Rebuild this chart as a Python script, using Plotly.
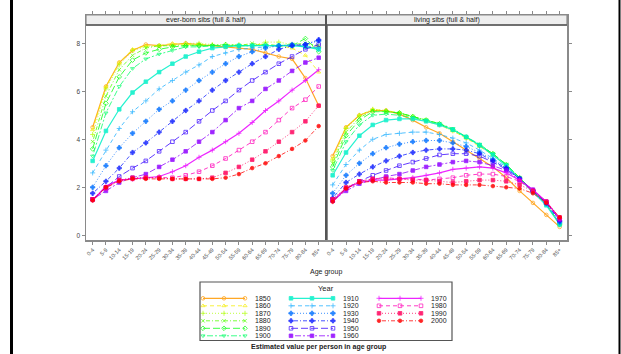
import plotly.graph_objects as go

W, H = 621, 354

age_groups = ["0-4", "5-9", "10-14", "15-19", "20-24", "25-29", "30-34", "35-39", "40-44",
              "45-49", "50-54", "55-59", "60-64", "65-69", "70-74", "75-79", "80-84", "85+"]
years = [1850, 1860, 1870, 1880, 1890, 1900, 1910, 1920, 1930, 1940, 1950, 1960, 1970, 1980, 1990, 2000]
panel_titles = ["ever-born sibs (full & half)", "living sibs (full & half)"]

# ever-born sibs (full & half)
ever_1850 = [4.5, 6.2, 7.2, 7.7, 7.95, 7.9, 7.95, 8.0, 7.95, 7.9, 7.85, 7.8, 7.75, 7.6, 7.45, 7.35, 6.55, 5.4]
ever_1860 = [4.4, 6.2, 7.2, 7.75, 7.9, 7.9, 8.0, 7.95, 7.95, 7.9, 7.9, 7.9, 7.95, 7.95, 7.9, 7.8, 7.5, 6.8]
ever_1870 = [4.2, 6.1, 7.1, 7.7, 7.85, 7.9, 7.9, 8.0, 8.0, 7.95, 7.95, 7.95, 7.9, 8.05, 8.05, 7.95, 7.9, 7.85]
ever_1880 = [3.9, 5.8, 6.9, 7.5, 7.8, 7.9, 7.9, 7.9, 7.95, 7.9, 7.9, 7.9, 8.0, 7.9, 7.9, 7.95, 8.0, 7.9]
ever_1890 = [3.6, 5.5, 6.6, 7.3, 7.6, 7.75, 7.85, 7.9, 7.9, 7.9, 7.95, 7.9, 7.9, 7.95, 7.9, 7.9, 8.2, 7.65]
ever_1900 = [3.3, 5.1, 6.2, 6.95, 7.35, 7.55, 7.7, 7.85, 7.85, 7.9, 7.9, 7.9, 7.9, 7.9, 7.9, 7.95, 7.85, 7.8]
ever_1910 = [3.1, 4.35, 5.25, 5.95, 6.4, 6.8, 7.15, 7.45, 7.65, 7.8, 7.85, 7.9, 7.9, 7.9, 7.9, 7.9, 7.85, 7.75]
ever_1920 = [2.6, 3.55, 4.45, 5.15, 5.6, 6.1, 6.45, 6.8, 7.1, 7.45, 7.6, 7.75, 7.8, 7.85, 7.9, 7.9, 7.9, 7.8]
ever_1930 = [2.0, 2.9, 3.65, 4.25, 4.75, 5.25, 5.6, 6.05, 6.45, 6.8, 7.15, 7.45, 7.65, 7.8, 7.9, 7.95, 7.95, 8.1]
ever_1940 = [1.75, 2.25, 2.8, 3.45, 3.85, 4.3, 4.75, 5.2, 5.6, 6.05, 6.45, 6.8, 7.15, 7.45, 7.75, 7.9, 7.95, 8.15]
ever_1950 = [1.5, 2.0, 2.45, 2.8, 3.1, 3.5, 3.9, 4.3, 4.75, 5.2, 5.6, 6.05, 6.45, 6.8, 7.15, 7.45, 7.75, 7.95]
ever_1960 = [1.5, 1.85, 2.2, 2.4, 2.55, 2.85, 3.15, 3.5, 3.9, 4.3, 4.8, 5.3, 5.6, 6.1, 6.45, 6.85, 7.2, 7.4]
ever_1970 = [1.45, 2.05, 2.3, 2.35, 2.4, 2.45, 2.65, 2.9, 3.25, 3.55, 3.9, 4.25, 4.7, 5.2, 5.6, 6.05, 6.45, 6.9]
ever_1980 = [1.5, 1.95, 2.3, 2.35, 2.4, 2.4, 2.4, 2.5, 2.65, 2.9, 3.2, 3.55, 3.9, 4.3, 4.8, 5.3, 5.65, 6.2]
ever_1990 = [1.5, 2.0, 2.3, 2.4, 2.4, 2.4, 2.35, 2.35, 2.35, 2.4, 2.6, 2.85, 3.15, 3.5, 3.9, 4.3, 4.75, 5.4]
ever_2000 = [1.45, 2.0, 2.25, 2.35, 2.35, 2.35, 2.35, 2.35, 2.35, 2.35, 2.4, 2.55, 2.8, 3.0, 3.3, 3.6, 3.95, 4.55]

# living sibs (full & half)
liv_1850 = [3.3, 4.5, 5.0, 5.2, 5.2, 5.05, 4.8, 4.5, 4.25, 3.9, 3.55, 3.2, 2.85, 2.4, 1.85, 1.35, 0.85, 0.35]
liv_1860 = [3.2, 4.5, 5.0, 5.25, 5.2, 5.1, 4.9, 4.75, 4.6, 4.35, 4.05, 3.7, 3.35, 2.9, 2.35, 1.8, 1.3, 0.45]
liv_1870 = [3.1, 4.45, 5.0, 5.25, 5.2, 5.1, 4.95, 4.8, 4.6, 4.35, 4.05, 3.75, 3.4, 2.9, 2.4, 1.8, 1.3, 0.5]
liv_1880 = [3.0, 4.3, 4.9, 5.2, 5.15, 5.1, 4.95, 4.8, 4.65, 4.4, 4.1, 3.75, 3.4, 2.95, 2.4, 1.85, 1.3, 0.5]
liv_1890 = [2.85, 4.15, 4.8, 5.15, 5.15, 5.1, 4.95, 4.8, 4.65, 4.4, 4.1, 3.75, 3.4, 2.95, 2.4, 1.85, 1.3, 0.45]
liv_1900 = [2.7, 3.9, 4.6, 5.0, 5.05, 5.0, 4.9, 4.8, 4.65, 4.45, 4.1, 3.8, 3.4, 2.95, 2.4, 1.85, 1.3, 0.45]
liv_1910 = [2.5, 3.45, 4.15, 4.6, 4.8, 4.85, 4.85, 4.75, 4.6, 4.4, 4.1, 3.75, 3.35, 2.9, 2.35, 1.8, 1.25, 0.45]
liv_1920 = [2.1, 2.95, 3.55, 4.0, 4.2, 4.25, 4.3, 4.3, 4.2, 4.05, 3.85, 3.55, 3.2, 2.85, 2.35, 1.8, 1.3, 0.5]
liv_1930 = [1.75, 2.5, 3.0, 3.4, 3.65, 3.8, 3.9, 3.95, 3.95, 3.85, 3.7, 3.45, 3.15, 2.8, 2.35, 1.85, 1.35, 0.55]
liv_1940 = [1.55, 2.2, 2.55, 2.85, 3.1, 3.3, 3.45, 3.55, 3.6, 3.6, 3.55, 3.4, 3.1, 2.8, 2.35, 1.85, 1.35, 0.6]
liv_1950 = [1.45, 1.95, 2.25, 2.5, 2.7, 2.9, 3.05, 3.2, 3.35, 3.4, 3.4, 3.3, 3.05, 2.75, 2.35, 1.85, 1.35, 0.65]
liv_1960 = [1.45, 1.85, 2.15, 2.3, 2.45, 2.55, 2.7, 2.85, 2.95, 3.05, 3.1, 3.05, 2.9, 2.7, 2.3, 1.9, 1.4, 0.65]
liv_1970 = [1.4, 1.95, 2.2, 2.3, 2.3, 2.35, 2.4, 2.5, 2.6, 2.75, 2.8, 2.85, 2.8, 2.6, 2.3, 1.9, 1.4, 0.7]
liv_1980 = [1.5, 1.95, 2.25, 2.35, 2.4, 2.35, 2.35, 2.3, 2.35, 2.4, 2.5, 2.55, 2.55, 2.45, 2.25, 1.85, 1.4, 0.7]
liv_1990 = [1.5, 2.0, 2.25, 2.35, 2.35, 2.35, 2.3, 2.3, 2.25, 2.2, 2.25, 2.3, 2.3, 2.25, 2.1, 1.85, 1.4, 0.75]
liv_2000 = [1.4, 1.95, 2.2, 2.25, 2.2, 2.2, 2.2, 2.15, 2.15, 2.1, 2.1, 2.1, 2.05, 2.0, 1.95, 1.75, 1.35, 0.75]

ever_born = [ever_1850, ever_1860, ever_1870, ever_1880, ever_1890, ever_1900, ever_1910, ever_1920,
             ever_1930, ever_1940, ever_1950, ever_1960, ever_1970, ever_1980, ever_1990, ever_2000]
living = [liv_1850, liv_1860, liv_1870, liv_1880, liv_1890, liv_1900, liv_1910, liv_1920,
          liv_1930, liv_1940, liv_1950, liv_1960, liv_1970, liv_1980, liv_1990, liv_2000]

# styles
colors = ["#FF9900", "#F5EE00", "#ADFF00", "#52FF00", "#00FF0A", "#00FF66", "#00F0C8", "#20B0FF",
          "#0070FF", "#1020FF", "#3300FF", "#8F00FF", "#EB00FF", "#FF00B8", "#FF005C", "#FF0000"]
lty = ["solid", "4px,3px", "1px,2px", "1px,2px,4px,2px", "7px,3px", "2px,2px,6px,2px"]
dashes = [lty[i % 6] for i in range(16)]
symbols = ["circle-open", "triangle-up-open", "cross-thin-open", "x-thin-open", "diamond-open",
           "triangle-down-open", "square", "cross-thin-open", "cross", "cross", "square-open", "square",
           "cross-thin-open", "square-open", "square", "circle"]

FONT = "Liberation Sans, Arial, sans-serif"
GRAY = "#8a8a8a"
MS = 3.6

fig = go.Figure()

for p, data in enumerate([ever_born, living]):
    xa = "x" if p == 0 else "x2"
    ya = "y" if p == 0 else "y2"
    for i, yr in enumerate(years):
        lw = 1.2 if dashes[i] == "solid" else 0.9
        fig.add_trace(go.Scatter(
            x=age_groups, y=data[i], mode="lines+markers", name=str(yr), showlegend=False,
            xaxis=xa, yaxis=ya, opacity=0.85,
            line=dict(color=colors[i], width=lw, dash=dashes[i]),
            marker=dict(symbol=symbols[i], size=MS, color=colors[i],
                        line=dict(color=colors[i], width=0.8)),
        ))

# ---- legend drawn in a hidden pixel-space subplot ----
leg_x0, leg_col_step, leg_line_len = 203, 88, 42
leg_y0, leg_row_step = 298.3, 7.5
for i, yr in enumerate(years):
    col, row = divmod(i, 6)
    x0 = leg_x0 + col * leg_col_step
    yy = leg_y0 + row * leg_row_step
    lw = 1.2 if dashes[i] == "solid" else 0.9
    fig.add_trace(go.Scatter(
        x=[x0, x0 + leg_line_len / 2, x0 + leg_line_len], y=[yy, yy, yy],
        mode="lines+markers", showlegend=False, xaxis="x3", yaxis="y3", hoverinfo="skip", opacity=0.85,
        line=dict(color=colors[i], width=lw, dash=dashes[i]),
        marker=dict(symbol=symbols[i], size=MS, color=colors[i], line=dict(color=colors[i], width=0.8)),
    ))
    fig.add_annotation(x=x0 + leg_line_len + 8, y=yy, xref="x3", yref="y3", text=str(yr),
                       showarrow=False, xanchor="left", yanchor="middle",
                       font=dict(family=FONT, size=7, color="#222"))

px = lambda v: v / W
py = lambda v: 1 - v / H

xcommon = dict(type="category", range=[-0.5, 17.55], showgrid=False, zeroline=False,
               showline=True, linecolor=GRAY, linewidth=1.5, mirror="ticks",
               ticks="outside", ticklen=3, tickcolor=GRAY, tickwidth=1, tickangle=-45,
               tickfont=dict(family=FONT, size=5.5, color="#444"))
ycommon = dict(range=[-0.196, 9.18], domain=[py(240), py(15)], showgrid=False, zeroline=False,
               showline=True, linecolor=GRAY, linewidth=1.5, mirror=True,
               ticks="outside", ticklen=3, tickcolor=GRAY, tickwidth=1,
               tickvals=[0, 2, 4, 6, 8], tickfont=dict(family=FONT, size=6.5, color="#444"))

fig.update_layout(
    width=W, height=H, margin=dict(l=0, r=0, t=0, b=0),
    paper_bgcolor="white", plot_bgcolor="rgba(0,0,0,0)",
    showlegend=False,
    xaxis=dict(domain=[px(86), px(326)], anchor="y", **xcommon),
    xaxis2=dict(domain=[px(326), px(567)], anchor="y2", **xcommon),
    yaxis=dict(anchor="x", side="left", showticklabels=True, **ycommon),
    yaxis2=dict(anchor="x2", side="right", showticklabels=False, **ycommon),
    xaxis3=dict(domain=[0, 1], range=[0, W], visible=False, anchor="y3", fixedrange=True),
    yaxis3=dict(domain=[0, 1], range=[H, 0], visible=False, anchor="x3", fixedrange=True),
)

shapes = []
# strips
for (a, b) in [(86, 326), (326, 567)]:
    shapes.append(dict(type="rect", xref="paper", yref="paper", x0=px(a), x1=px(b), y0=py(25), y1=py(15),
                       fillcolor="#eeeeee", line=dict(color=GRAY, width=1.2), layer="above"))
# panel strip-bottom rule
shapes.append(dict(type="line", xref="paper", yref="paper", x0=px(86), x1=px(567), y0=py(25), y1=py(25),
                   line=dict(color="#555", width=1.5), layer="above"))
# divider between panels
shapes.append(dict(type="line", xref="paper", yref="paper", x0=px(326), x1=px(326), y0=py(240), y1=py(15),
                   line=dict(color="#555", width=2), layer="above"))
# legend box
shapes.append(dict(type="rect", xref="x3", yref="y3", x0=200, x1=452, y0=282, y1=340.5,
                   line=dict(color="#555", width=1.2), fillcolor="rgba(0,0,0,0)"))
# outer black rules
shapes.append(dict(type="line", xref="paper", yref="paper", x0=px(11.5), x1=px(11.5), y0=0, y1=1,
                   line=dict(color="black", width=3)))
shapes.append(dict(type="line", xref="paper", yref="paper", x0=px(619.5), x1=px(619.5), y0=0, y1=1,
                   line=dict(color="black", width=2)))
fig.update_layout(shapes=shapes)

for (a, b), t in zip([(86, 326), (326, 567)], panel_titles):
    fig.add_annotation(x=px((a + b) / 2), y=py(20), xref="paper", yref="paper", text=t, showarrow=False,
                       xanchor="center", yanchor="middle", font=dict(family=FONT, size=7, color="#222"))

fig.add_annotation(x=px(326), y=py(272), xref="paper", yref="paper", text="Age group", showarrow=False,
                   xanchor="center", yanchor="middle", font=dict(family=FONT, size=7, color="#222"))
fig.add_annotation(x=px(326), y=py(288.5), xref="paper", yref="paper", text="Year", showarrow=False,
                   xanchor="center", yanchor="middle", font=dict(family=FONT, size=7.5, color="#222"))
fig.add_annotation(x=px(318), y=py(347), xref="paper", yref="paper",
                   text="<b>Estimated value per person in age group</b>", showarrow=False,
                   xanchor="center", yanchor="middle", font=dict(family=FONT, size=7, color="#222"))

fig.write_html("out.html", config={"displayModeBar": False, "staticPlot": True},
               post_script="document.body.style.margin='0';document.body.style.padding='0';"
                           "document.documentElement.style.overflow='hidden';")
